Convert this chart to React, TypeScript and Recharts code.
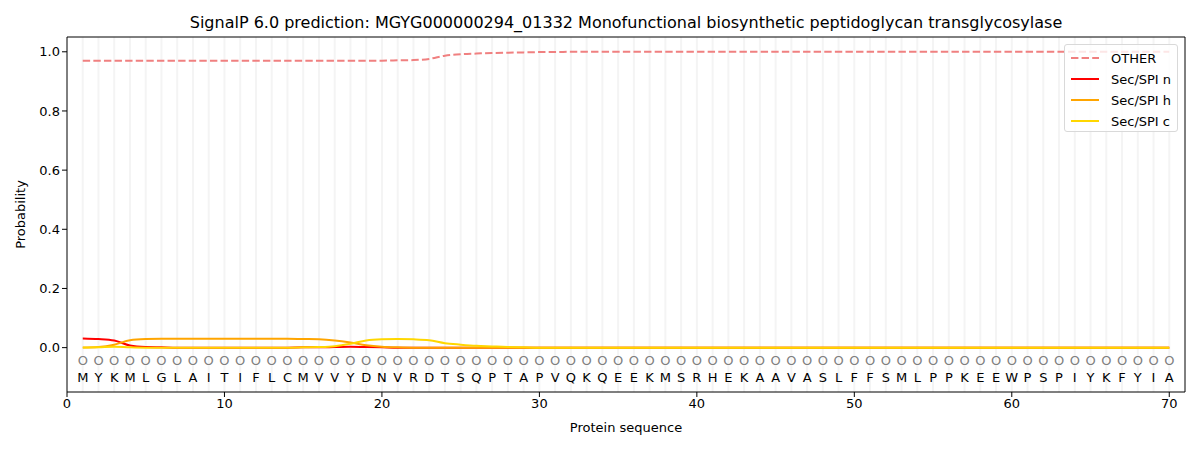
import React from 'react'
import { LineChart, Line, XAxis, YAxis, ReferenceLine } from 'recharts';

const residues = 'MYKMLGLAITIFLCMVVYDNVRDTSQPTAPVQKQEEKMSRHEKAAVASLFFSMLPPKEEWPSPIYKFYIA'.split('');

const other = [
  0.970, 0.970, 0.970, 0.970, 0.970, 0.970, 0.970, 0.970, 0.970, 0.970,
  0.970, 0.970, 0.970, 0.970, 0.970, 0.970, 0.970, 0.970, 0.970, 0.970,
  0.971, 0.972, 0.976, 0.987, 0.992, 0.994, 0.996, 0.997, 0.998, 0.999,
  0.999, 1.0, 1.0, 1.0, 1.0, 1.0, 1.0, 1.0, 1.0, 1.0,
  1.0, 1.0, 1.0, 1.0, 1.0, 1.0, 1.0, 1.0, 1.0, 1.0,
  1.0, 1.0, 1.0, 1.0, 1.0, 1.0, 1.0, 1.0, 1.0, 1.0,
  1.0, 1.0, 1.0, 1.0, 1.0, 1.0, 1.0, 1.0, 1.0, 1.0,
];

const secN = [
  0.031, 0.029, 0.024, 0.007, 0.002, 0.001, 0.0, 0.0, 0.0, 0.0,
  0.0, 0.0, 0.0, 0.0, 0.001, 0.001, 0.002, 0.003, 0.002, 0.001,
  0.0, 0.0, 0.0, 0.0, 0.0, 0.0, 0.0, 0.0, 0.0, 0.0,
  0.0, 0.0, 0.0, 0.0, 0.0, 0.0, 0.0, 0.0, 0.0, 0.0,
  0.0, 0.0, 0.0, 0.0, 0.0, 0.0, 0.0, 0.0, 0.0, 0.0,
  0.0, 0.0, 0.0, 0.0, 0.0, 0.0, 0.0, 0.0, 0.0, 0.0,
  0.0, 0.0, 0.0, 0.0, 0.0, 0.0, 0.0, 0.0, 0.0, 0.0,
];

const secH = [
  0.0, 0.002, 0.010, 0.025, 0.029, 0.030, 0.030, 0.030, 0.030, 0.030,
  0.030, 0.030, 0.030, 0.030, 0.029, 0.028, 0.024, 0.017, 0.008, 0.003,
  0.001, 0.0, 0.0, 0.0, 0.0, 0.0, 0.0, 0.0, 0.0, 0.0,
  0.0, 0.0, 0.0, 0.0, 0.0, 0.0, 0.0, 0.0, 0.0, 0.0,
  0.0, 0.0, 0.0, 0.0, 0.0, 0.0, 0.0, 0.0, 0.0, 0.0,
  0.0, 0.0, 0.0, 0.0, 0.0, 0.0, 0.0, 0.0, 0.0, 0.0,
  0.0, 0.0, 0.0, 0.0, 0.0, 0.0, 0.0, 0.0, 0.0, 0.0,
];

const secC = [
  0.0, 0.001, 0.003, 0.001, 0.0, 0.0, 0.0, 0.0, 0.0, 0.0,
  0.0, 0.0, 0.0, 0.0, 0.001, 0.002, 0.005, 0.013, 0.024, 0.028,
  0.029, 0.028, 0.025, 0.015, 0.010, 0.006, 0.004, 0.002, 0.001, 0.0,
  0.0, 0.0, 0.0, 0.0, 0.0, 0.0, 0.0, 0.0, 0.0, 0.0,
  0.0, 0.0, 0.0, 0.0, 0.0, 0.0, 0.0, 0.0, 0.0, 0.0,
  0.0, 0.0, 0.0, 0.0, 0.0, 0.0, 0.0, 0.0, 0.0, 0.0,
  0.0, 0.0, 0.0, 0.0, 0.0, 0.0, 0.0, 0.0, 0.0, 0.0,
];

const xTicks = [0, 10, 20, 30, 40, 50, 60, 70];
const yTicks = [0, 0.2, 0.4, 0.6, 0.8, 1.0];

const X_DOMAIN = [0, 71];
const Y_DOMAIN = [-0.15, 1.05];
const CIRCLE_Y = -0.045;
const LETTER_Y = -0.1;

const data = residues.map((aa, i) => ({
  pos: i + 1,
  aa,
  OTHER: other[i],
  'Sec/SPI n': secN[i],
  'Sec/SPI h': secH[i],
  'Sec/SPI c': secC[i],
  circle: CIRCLE_Y,
  letter: LETTER_Y,
}));

const font = '"DejaVu Sans", sans-serif';

const series = [
  { key: 'OTHER', color: '#f08080', dash: '7.4 3.2' },
  { key: 'Sec/SPI n', color: '#ff0000', dash: undefined },
  { key: 'Sec/SPI h', color: '#ffa500', dash: undefined },
  { key: 'Sec/SPI c', color: '#ffd700', dash: undefined },
];

const CircleDot = (props: any) => {
  const { cx, cy, index } = props;
  return (
    <text key={'c' + index} x={cx} y={cy} textAnchor="middle" dominantBaseline="central"
      fontSize={13} fontFamily={font} fill="#808080">O</text>
  );
};

const LetterDot = (props: any) => {
  const { cx, cy, index, payload } = props;
  return (
    <text key={'l' + index} x={cx} y={cy} textAnchor="middle" dominantBaseline="central"
      fontSize={13} fontFamily={font} fill="#000">{payload.aa}</text>
  );
};

const App: React.FC = () => {
  return (
    <div style={{ position: 'absolute', left: 0, top: 0, width: 1200, height: 450, background: '#fff', fontFamily: font }}>
      <div style={{ position: 'absolute', left: 0, width: 1252, top: 13, textAlign: 'center', fontSize: 16, color: '#000' }}>
        SignalP 6.0 prediction: MGYG000000294_01332 Monofunctional biosynthetic peptidoglycan transglycosylase
      </div>
      <LineChart
        width={1200}
        height={450}
        data={data}
        margin={{ top: 37, right: 15, left: 0, bottom: 0 }}
      >
        <XAxis
          dataKey="pos"
          type="number"
          domain={X_DOMAIN}
          ticks={xTicks}
          allowDataOverflow
          height={58}
          tickSize={5}
          stroke="#000"
          tick={{ fill: '#000', fontSize: 13, fontFamily: font }}
          label={{ value: 'Protein sequence', position: 'insideBottom', offset: 18, fill: '#000', fontSize: 13, fontFamily: font }}
        />
        <YAxis
          type="number"
          domain={Y_DOMAIN}
          ticks={yTicks}
          allowDataOverflow
          width={67}
          tickSize={5}
          stroke="#000"
          tickFormatter={(v: number) => v.toFixed(1)}
          tick={{ fill: '#000', fontSize: 13, fontFamily: font }}
          label={{ value: 'Probability', angle: -90, position: 'insideLeft', offset: 20, fill: '#000', fontSize: 13, fontFamily: font, style: { textAnchor: 'middle' } }}
        />
        {data.map(d => (
          <ReferenceLine key={'g' + d.pos} x={d.pos} stroke="#f4f4f4" strokeWidth={2} />
        ))}
        <ReferenceLine y={Y_DOMAIN[1]} stroke="#000" strokeWidth={1} />
        <ReferenceLine x={X_DOMAIN[1]} stroke="#000" strokeWidth={1} />
        <Line dataKey="circle" stroke="none" isAnimationActive={false} dot={CircleDot} activeDot={false} legendType="none" />
        <Line dataKey="letter" stroke="none" isAnimationActive={false} dot={LetterDot} activeDot={false} legendType="none" />
        {series.map(s => (
          <Line
            key={s.key}
            type="monotone"
            dataKey={s.key}
            stroke={s.color}
            strokeWidth={2}
            strokeDasharray={s.dash}
            dot={false}
            activeDot={false}
            isAnimationActive={false}
          />
        ))}
      </LineChart>
      <div style={{ position: 'absolute', left: 1064, top: 44, width: 112, height: 86, border: '1px solid #d9d9d9', borderRadius: 3, background: 'rgba(255,255,255,0.8)', fontSize: 13, color: '#000' }}>
        {series.map((s, i) => (
          <div key={s.key} style={{ position: 'absolute', left: 6, top: 4 + i * 21, height: 18, display: 'flex', alignItems: 'center' }}>
            <svg width={28} height={6} style={{ marginRight: 12 }}>
              <line x1={0} y1={3} x2={28} y2={3} stroke={s.color} strokeWidth={2} strokeDasharray={s.dash} />
            </svg>
            <span>{s.key}</span>
          </div>
        ))}
      </div>
    </div>
  )
}

export default App
